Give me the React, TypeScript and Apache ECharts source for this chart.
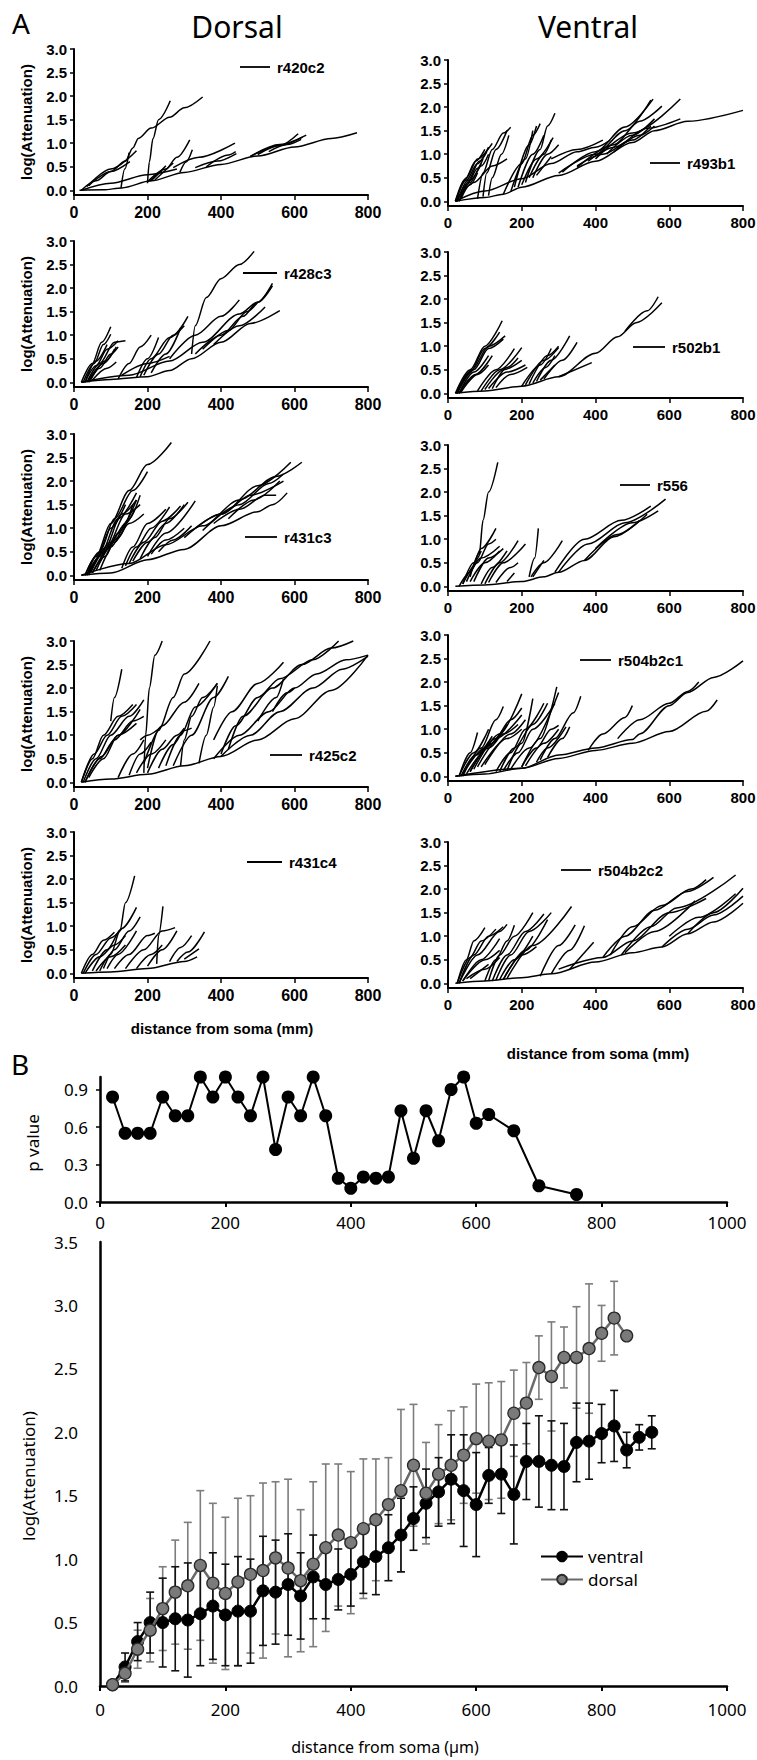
import React, { useEffect, useRef } from "react";
import * as echarts from "echarts";

// ---------- Panel A: attenuation traces (flat [x0,y0,x1,y1,...] per dendritic path) ----------
const r420c2: number[][] = [
  [15, 0, 80, 0.01, 130, 0.05, 210, 0.2, 300, 0.38, 400, 0.55, 500, 0.73, 600, 0.92, 700, 1.1, 770, 1.22],
  [20, 0, 100, 0.15, 200, 0.33, 280, 0.45],
  [20, 0, 60, 0.2, 100, 0.4, 140, 0.62, 160, 0.9, 175, 1.1, 210, 1.32, 260, 1.55, 300, 1.75, 350, 1.98],
  [35, 0.08, 100, 0.45, 170, 0.84],
  [40, 0.1, 100, 0.4, 152, 0.61],
  [128, 0.05, 138, 0.45, 150, 0.8],
  [200, 0.15, 205, 0.6, 215, 1.1, 230, 1.5, 262, 1.9],
  [200, 0.18, 250, 0.45, 280, 0.7, 315, 1.07],
  [288, 0.38, 305, 0.6, 322, 0.86],
  [210, 0.2, 250, 0.52],
  [220, 0.22, 270, 0.58],
  [205, 0.19, 240, 0.42],
  [270, 0.48, 340, 0.7, 438, 1.0],
  [330, 0.48, 390, 0.62, 442, 0.78],
  [360, 0.5, 420, 0.75, 440, 0.82],
  [480, 0.72, 560, 0.95, 610, 1.2],
  [500, 0.76, 560, 0.95, 622, 1.13],
  [480, 0.72, 560, 0.97, 632, 1.17],
  [530, 0.82, 580, 0.97, 618, 1.08],
];

const r428c3: number[][] = [
  [20, 0, 50, 0.4, 75, 0.85, 100, 1.18],
  [25, 0, 55, 0.4, 80, 0.8, 100, 1.02],
  [30, 0, 60, 0.35, 90, 0.7, 120, 0.88],
  [35, 0, 70, 0.4, 110, 0.85, 140, 0.88],
  [40, 0.05, 80, 0.4, 110, 0.7],
  [45, 0.05, 85, 0.45, 115, 0.75],
  [50, 0.05, 90, 0.3, 115, 0.43],
  [40, 0, 70, 0.3, 100, 0.6, 120, 0.75],
  [30, 0, 60, 0.45, 90, 0.8],
  [120, 0.07, 150, 0.4, 180, 0.75, 210, 1.0],
  [170, 0.1, 200, 0.5, 230, 0.95],
  [180, 0.12, 210, 0.5, 260, 0.95, 300, 1.2],
  [190, 0.15, 230, 0.6, 270, 1.0, 310, 1.4],
  [130, 0.15, 200, 0.4, 260, 0.55],
  [210, 0.2, 250, 0.6, 290, 1.15],
  [20, 0, 100, 0.06, 200, 0.12, 260, 0.25, 320, 0.5, 400, 0.85, 480, 1.25, 560, 1.52],
  [20, 0, 150, 0.15, 260, 0.45, 350, 0.85, 450, 1.45, 500, 1.7, 540, 2.1],
  [320, 0.6, 330, 1.2, 360, 1.8, 400, 2.2, 450, 2.5, 490, 2.78],
  [330, 0.6, 400, 1.0, 460, 1.4, 500, 1.7, 540, 2.05],
  [260, 0.5, 330, 1.0, 400, 1.4, 450, 1.75],
  [350, 0.7, 420, 1.1, 470, 1.5, 500, 1.7],
  [380, 0.8, 450, 1.2, 520, 1.6],
];

const r431c3: number[][] = [
  [30, 0, 60, 0.4, 100, 1.1, 150, 1.8, 200, 2.35, 265, 2.82],
  [30, 0, 70, 0.5, 110, 1.2, 160, 1.8, 200, 2.2],
  [35, 0, 70, 0.4, 120, 1.2, 170, 1.75],
  [40, 0, 80, 0.5, 130, 1.3, 170, 1.6],
  [40, 0.05, 90, 0.6, 140, 1.3, 180, 1.5],
  [45, 0.05, 100, 0.7, 140, 1.1, 165, 1.4],
  [50, 0.05, 100, 0.6, 150, 1.2, 180, 1.7],
  [60, 0.1, 110, 0.7, 150, 1.1, 190, 1.3],
  [70, 0.1, 120, 0.8, 160, 1.5],
  [50, 0.05, 85, 0.4, 120, 0.9, 170, 1.6],
  [35, 0, 65, 0.45, 100, 1.0, 140, 1.5],
  [130, 0.15, 160, 0.6, 200, 1.1, 250, 1.4],
  [140, 0.2, 170, 0.6, 210, 1.0, 260, 1.45],
  [150, 0.25, 190, 0.7, 240, 1.15, 290, 1.47],
  [160, 0.3, 200, 0.7, 250, 1.1, 300, 1.5],
  [180, 0.35, 220, 0.8, 260, 1.2, 310, 1.55],
  [200, 0.4, 250, 0.9, 330, 1.58],
  [210, 0.45, 250, 0.75, 300, 1.0],
  [230, 0.5, 270, 0.75, 320, 1.05],
  [20, 0, 100, 0.05, 200, 0.33, 300, 0.55, 400, 1.05, 500, 1.35, 540, 1.5, 580, 1.75],
  [20, 0, 150, 0.25, 250, 0.65, 350, 1.05, 450, 1.6, 550, 2.1, 620, 2.4],
  [300, 0.8, 400, 1.3, 500, 1.9, 590, 2.4],
  [350, 0.95, 450, 1.5, 530, 1.95, 570, 2.15],
  [330, 1.0, 400, 1.3, 480, 1.7, 570, 2.0],
  [380, 1.1, 450, 1.4, 520, 1.7, 550, 1.7],
  [420, 1.2, 490, 1.6, 560, 2.0],
];

const r425c2: number[][] = [
  [20, 0, 50, 0.5, 80, 1.0, 120, 1.4, 160, 1.65],
  [20, 0, 55, 0.6, 90, 1.0, 130, 1.4, 170, 1.65],
  [25, 0, 60, 0.5, 100, 1.0, 150, 1.4, 190, 1.75],
  [30, 0, 70, 0.5, 110, 0.9, 160, 1.3, 190, 1.4],
  [30, 0, 75, 0.55, 120, 1.0, 170, 1.25],
  [40, 0.1, 80, 0.5, 120, 1.0, 180, 1.55],
  [100, 1.3, 110, 1.8, 130, 2.4],
  [190, 0.2, 195, 1.0, 205, 2.0, 220, 2.7, 240, 3.0],
  [200, 0.3, 230, 1.1, 270, 1.8, 300, 2.3, 370, 3.0],
  [190, 0.4, 240, 1.2, 300, 1.7, 340, 2.1],
  [180, 0.9, 200, 1.0, 240, 1.2],
  [120, 0.1, 160, 0.6, 190, 0.9],
  [150, 0.15, 180, 0.6, 210, 0.85],
  [170, 0.2, 210, 0.6, 250, 0.9],
  [200, 0.2, 240, 0.7, 280, 1.0, 300, 1.15],
  [230, 0.3, 270, 0.8, 300, 1.1, 320, 1.15],
  [250, 0.35, 290, 1.0, 330, 1.6, 390, 2.1],
  [290, 0.35, 300, 0.9, 320, 1.4, 350, 1.8, 390, 2.1],
  [340, 0.4, 360, 1.0, 380, 1.6, 390, 2.05],
  [270, 0.35, 320, 1.0, 380, 1.8, 420, 2.25],
  [20, 0, 100, 0.07, 200, 0.17, 300, 0.35, 400, 0.55, 500, 0.9, 600, 1.35, 700, 1.95, 800, 2.7],
  [400, 0.55, 480, 1.0, 560, 1.5, 650, 2.0, 730, 2.4, 800, 2.68],
  [380, 0.5, 450, 1.0, 530, 1.5, 600, 2.0, 660, 2.3, 740, 2.6, 800, 2.7],
  [400, 0.6, 440, 1.2, 500, 1.8, 560, 2.2, 650, 2.6, 720, 3.0],
  [420, 0.7, 460, 1.4, 540, 2.0, 620, 2.5, 700, 2.85, 760, 3.0],
  [380, 0.9, 430, 1.5, 500, 2.1, 570, 2.55],
  [500, 1.3, 550, 1.8, 570, 2.2],
  [540, 1.5, 580, 1.9, 600, 2.0],
];

const r431c4: number[][] = [
  [20, 0, 50, 0.4, 80, 0.7, 110, 0.87],
  [25, 0, 60, 0.4, 100, 0.75, 130, 0.95],
  [30, 0, 70, 0.35, 110, 0.6, 140, 0.8],
  [50, 0.05, 90, 0.5, 130, 0.95, 170, 1.4],
  [70, 0.05, 100, 0.4, 125, 0.9, 140, 1.5, 165, 2.07],
  [80, 0.1, 110, 0.5, 150, 0.9, 180, 1.2],
  [90, 0.1, 120, 0.4, 170, 0.9],
  [60, 0.05, 100, 0.35, 140, 0.6],
  [110, 0.1, 150, 0.4, 200, 0.8, 220, 0.85],
  [140, 0.1, 190, 0.5, 240, 0.9, 275, 0.97],
  [170, 0.1, 210, 0.4, 240, 0.6],
  [200, 0.15, 240, 0.5, 280, 0.9],
  [225, 0.2, 230, 0.8, 242, 1.42],
  [260, 0.25, 290, 0.55, 320, 0.8],
  [280, 0.25, 310, 0.45, 355, 0.88],
  [300, 0.3, 340, 0.52],
  [20, 0, 100, 0.03, 200, 0.1, 300, 0.25, 335, 0.35],
];

const r493b1: number[][] = [
  [20, 0, 50, 0.45, 80, 0.8, 110, 1.15],
  [20, 0, 45, 0.45, 75, 0.85, 100, 1.1],
  [22, 0, 50, 0.5, 80, 0.9, 120, 1.23],
  [25, 0, 55, 0.45, 85, 0.85, 105, 1.05],
  [25, 0, 55, 0.4, 80, 0.7, 95, 0.9],
  [30, 0, 60, 0.4, 90, 0.75, 110, 1.0],
  [30, 0, 60, 0.45, 90, 0.8],
  [35, 0.05, 60, 0.35, 80, 0.6],
  [20, 0, 70, 0.4, 120, 0.75, 160, 0.9],
  [80, 0.05, 95, 0.6, 120, 1.1, 150, 1.45, 170, 1.57],
  [95, 0.1, 105, 0.6, 130, 1.1, 160, 1.5],
  [110, 0.12, 120, 0.5, 145, 1.0, 165, 1.4],
  [150, 0.15, 200, 0.8, 230, 1.4, 250, 1.65],
  [170, 0.2, 210, 0.9, 230, 1.5],
  [180, 0.3, 220, 1.2, 240, 1.6],
  [190, 0.3, 230, 1.0, 260, 1.4],
  [200, 0.35, 240, 0.9, 285, 1.35],
  [210, 0.4, 250, 1.1, 270, 1.6, 290, 1.87],
  [220, 0.5, 260, 1.0, 280, 1.3],
  [230, 0.5, 270, 1.0, 300, 1.2],
  [240, 0.55, 280, 0.95],
  [20, 0, 100, 0.08, 150, 0.15, 200, 0.3, 300, 0.55, 400, 0.85, 500, 1.25, 560, 1.5, 650, 1.7, 800, 1.93],
  [20, 0, 100, 0.22, 200, 0.48, 280, 0.8, 350, 1.05, 400, 1.15, 440, 1.3],
  [300, 0.6, 400, 1.0, 480, 1.5, 550, 2.15],
  [310, 0.62, 400, 1.05, 480, 1.58, 556, 2.17],
  [350, 0.72, 450, 1.2, 520, 1.7, 580, 2.02],
  [400, 0.9, 500, 1.45, 630, 2.17],
  [430, 1.0, 500, 1.4, 560, 1.75],
  [450, 1.05, 520, 1.4, 560, 1.6],
  [380, 0.85, 450, 1.15, 540, 1.55, 630, 1.75],
  [350, 0.75, 420, 1.0, 500, 1.3, 550, 1.6],
  [280, 0.9, 350, 1.1, 420, 1.3],
];

const r502b1: number[][] = [
  [20, 0, 60, 0.5, 100, 1.0, 147, 1.54],
  [22, 0, 60, 0.45, 100, 0.95, 140, 1.3],
  [25, 0, 65, 0.5, 110, 1.0, 155, 1.22],
  [25, 0, 70, 0.5, 110, 0.95, 150, 1.15],
  [30, 0, 70, 0.45, 110, 0.8],
  [30, 0, 75, 0.4, 120, 0.8],
  [35, 0.02, 80, 0.4, 110, 0.6],
  [80, 0.05, 130, 0.5, 180, 0.95],
  [90, 0.05, 140, 0.5, 200, 0.97],
  [100, 0.08, 150, 0.5, 200, 0.7],
  [110, 0.1, 160, 0.45, 210, 0.6],
  [130, 0.12, 170, 0.4, 215, 0.55],
  [120, 0.1, 160, 0.55, 190, 0.75],
  [200, 0.15, 250, 0.6, 280, 0.95],
  [210, 0.18, 260, 0.7, 300, 0.97],
  [220, 0.2, 270, 0.8, 300, 1.0],
  [240, 0.25, 280, 0.7, 330, 1.22],
  [260, 0.3, 310, 0.7, 350, 1.08],
  [250, 0.28, 290, 0.6],
  [230, 0.22, 265, 0.55, 290, 0.8],
  [20, 0, 100, 0.05, 200, 0.15, 300, 0.35, 400, 0.85, 460, 1.2, 510, 1.5, 580, 1.92],
  [480, 1.32, 540, 1.75, 570, 2.05],
  [300, 0.35, 390, 0.65],
];

const r556: number[][] = [
  [60, 0.2, 85, 0.7, 95, 1.4, 110, 2.0, 135, 2.63],
  [30, 0, 60, 0.3, 90, 0.8, 130, 1.23],
  [40, 0.05, 80, 0.5, 110, 0.9, 130, 1.0],
  [50, 0.1, 90, 0.6, 140, 0.85],
  [60, 0.1, 100, 0.5, 140, 0.75],
  [70, 0.1, 110, 0.6, 150, 0.8],
  [90, 0.05, 120, 0.4, 160, 0.75],
  [100, 0.05, 140, 0.5, 190, 0.97],
  [110, 0.08, 150, 0.5, 210, 0.9],
  [130, 0.08, 170, 0.4, 190, 0.5],
  [160, 0.1, 180, 0.28],
  [40, 0.05, 70, 0.5, 90, 0.75],
  [220, 0.2, 235, 0.6, 245, 1.23],
  [225, 0.2, 260, 0.5, 310, 0.97],
  [230, 0.2, 260, 0.55],
  [20, 0, 100, 0.03, 200, 0.1, 260, 0.2, 300, 0.3, 370, 0.55, 450, 1.05, 540, 1.53],
  [290, 0.3, 370, 1.0, 470, 1.4, 550, 1.7],
  [300, 0.3, 380, 0.9, 480, 1.35, 590, 1.85],
  [400, 0.8, 500, 1.35, 570, 1.6],
  [370, 0.55, 460, 1.1, 520, 1.4],
];

const r504b2c1: number[][] = [
  [30, 0, 60, 0.5, 80, 0.93],
  [30, 0, 70, 0.5, 110, 1.0],
  [40, 0, 90, 0.6, 130, 1.2, 150, 1.48],
  [40, 0.05, 100, 0.6, 150, 1.0],
  [50, 0.05, 110, 0.6, 160, 1.1],
  [60, 0.1, 120, 0.7, 170, 1.2, 200, 1.45],
  [60, 0.1, 130, 0.8, 200, 1.3],
  [70, 0.15, 140, 0.9, 200, 1.75],
  [80, 0.2, 150, 0.9, 190, 1.1],
  [90, 0.2, 160, 0.8, 200, 1.0],
  [100, 0.25, 170, 0.9, 210, 1.2],
  [35, 0, 75, 0.45, 120, 0.85],
  [130, 0.1, 170, 0.5, 210, 1.0, 260, 1.55],
  [140, 0.1, 180, 0.6, 230, 1.1, 270, 1.55],
  [150, 0.12, 190, 0.5, 230, 1.0, 290, 1.55],
  [160, 0.12, 200, 0.7, 230, 1.65],
  [170, 0.15, 220, 0.6, 300, 1.78],
  [200, 0.2, 250, 0.8, 295, 1.9],
  [200, 0.2, 240, 0.6, 280, 1.0, 300, 1.08],
  [210, 0.22, 260, 0.7, 300, 1.0],
  [240, 0.3, 270, 0.6, 320, 1.05],
  [250, 0.35, 290, 0.8, 340, 1.35, 360, 1.7],
  [270, 0.4, 310, 0.8, 330, 1.05],
  [20, 0, 100, 0.05, 200, 0.17, 300, 0.38, 400, 0.55, 500, 0.7, 600, 0.95, 700, 1.38, 730, 1.62],
  [20, 0, 200, 0.17, 300, 0.45, 400, 0.6, 500, 0.78, 520, 0.9, 600, 1.5, 650, 1.78, 720, 2.1, 800, 2.45],
  [380, 0.55, 420, 0.9, 480, 1.25, 500, 1.5],
  [460, 0.8, 520, 1.2, 600, 1.55, 650, 1.8, 680, 2.0],
];

const r504b2c2: number[][] = [
  [25, 0, 50, 0.5, 70, 0.9, 100, 1.18],
  [25, 0, 60, 0.55, 90, 0.9, 130, 1.15],
  [30, 0, 70, 0.6, 110, 1.0, 150, 1.2],
  [30, 0, 80, 0.6, 140, 1.1, 160, 1.25],
  [40, 0.05, 90, 0.5, 140, 0.95],
  [40, 0.05, 100, 0.5, 140, 0.7],
  [50, 0.1, 100, 0.3, 140, 0.55],
  [60, 0.1, 110, 0.4],
  [100, 0.05, 130, 0.5, 160, 0.9, 180, 1.23],
  [110, 0.05, 140, 0.6, 180, 1.0, 230, 1.5],
  [120, 0.05, 160, 0.6, 210, 1.1, 260, 1.47],
  [130, 0.07, 170, 0.6, 220, 1.1, 280, 1.5],
  [140, 0.08, 180, 0.5, 230, 1.0],
  [150, 0.08, 200, 0.6, 240, 0.78],
  [150, 0.08, 210, 0.7, 270, 1.35],
  [160, 0.1, 230, 0.8, 335, 1.63],
  [250, 0.15, 300, 0.8, 345, 1.24],
  [280, 0.2, 330, 0.7, 370, 1.22],
  [330, 0.3, 395, 0.87],
  [20, 0, 100, 0.05, 200, 0.12, 280, 0.2, 400, 0.45, 500, 0.65, 580, 0.77, 650, 1.05, 720, 1.3, 800, 1.7],
  [580, 0.77, 650, 1.15, 720, 1.45, 800, 1.85],
  [650, 1.05, 720, 1.5, 800, 2.02],
  [300, 0.3, 420, 0.55, 500, 0.9, 600, 1.5, 700, 1.8],
  [420, 0.55, 480, 1.0, 560, 1.55, 650, 1.95, 720, 2.25],
  [440, 0.6, 500, 1.2, 580, 1.65, 660, 2.0, 700, 2.2],
  [470, 0.6, 550, 1.2, 620, 1.6, 780, 2.3],
  [480, 0.65, 560, 1.1, 670, 1.75],
  [600, 1.0, 680, 1.4, 780, 1.9],
];

const panelNames = ["r420c2", "r428c3", "r431c3", "r425c2", "r431c4", "r493b1", "r502b1", "r556", "r504b2c1", "r504b2c2"];
const panelTraces = [r420c2, r428c3, r431c3, r425c2, r431c4, r493b1, r502b1, r556, r504b2c1, r504b2c2];
const panelYTicks = [0, 0.5, 1, 1.5, 2, 2.5, 3];

// ---------- Panel B ----------
const pDistance = [20, 40, 60, 80, 100, 120, 140, 160, 180, 200, 220, 240, 260, 280, 300, 320, 340, 360, 380, 400, 420, 440, 460, 480, 500, 520, 540, 560, 580, 600, 620, 660, 700, 760];
const pValues = [0.84, 0.55, 0.55, 0.55, 0.84, 0.69, 0.69, 1.0, 0.84, 1.0, 0.84, 0.69, 1.0, 0.42, 0.84, 0.69, 1.0, 0.69, 0.19, 0.11, 0.2, 0.19, 0.2, 0.73, 0.35, 0.73, 0.49, 0.9, 1.0, 0.63, 0.7, 0.57, 0.13, 0.06];
const pTicks = [0, 0.3, 0.6, 0.9];

const ventralDistance = [20, 40, 60, 80, 100, 120, 140, 160, 180, 200, 220, 240, 260, 280, 300, 320, 340, 360, 380, 400, 420, 440, 460, 480, 500, 520, 540, 560, 580, 600, 620, 640, 660, 680, 700, 720, 740, 760, 780, 800, 820, 840, 860, 880];
const ventralMean = [0.01, 0.15, 0.35, 0.5, 0.5, 0.53, 0.52, 0.57, 0.63, 0.56, 0.59, 0.59, 0.75, 0.74, 0.8, 0.71, 0.86, 0.8, 0.84, 0.88, 0.98, 1.02, 1.09, 1.19, 1.32, 1.44, 1.53, 1.63, 1.54, 1.43, 1.66, 1.67, 1.51, 1.77, 1.77, 1.74, 1.73, 1.92, 1.93, 1.99, 2.05, 1.86, 1.96, 2.0];
const ventralSD = [0.02, 0.11, 0.15, 0.24, 0.35, 0.41, 0.45, 0.41, 0.42, 0.4, 0.43, 0.41, 0.43, 0.41, 0.4, 0.34, 0.33, 0.27, 0.24, 0.25, 0.25, 0.3, 0.26, 0.29, 0.25, 0.27, 0.27, 0.35, 0.44, 0.41, 0.22, 0.31, 0.39, 0.3, 0.36, 0.35, 0.34, 0.31, 0.3, 0.23, 0.28, 0.14, 0.1, 0.13];

const dorsalDistance = [20, 40, 60, 80, 100, 120, 140, 160, 180, 200, 220, 240, 260, 280, 300, 320, 340, 360, 380, 400, 420, 440, 460, 480, 500, 520, 540, 560, 580, 600, 620, 640, 660, 680, 700, 720, 740, 760, 780, 800, 820, 840];
const dorsalMean = [0.01, 0.1, 0.29, 0.44, 0.61, 0.74, 0.79, 0.95, 0.81, 0.73, 0.82, 0.88, 0.91, 1.01, 0.93, 0.83, 0.96, 1.09, 1.19, 1.13, 1.24, 1.31, 1.43, 1.54, 1.74, 1.52, 1.67, 1.74, 1.82, 1.95, 1.93, 1.94, 2.15, 2.23, 2.51, 2.44, 2.59, 2.59, 2.66, 2.78, 2.9, 2.76];
const dorsalSD = [0.02, 0.07, 0.15, 0.25, 0.33, 0.41, 0.5, 0.59, 0.63, 0.6, 0.66, 0.62, 0.69, 0.6, 0.7, 0.56, 0.65, 0.66, 0.56, 0.56, 0.55, 0.48, 0.37, 0.64, 0.48, 0.4, 0.39, 0.43, 0.38, 0.43, 0.46, 0.46, 0.34, 0.32, 0.25, 0.43, 0.24, 0.4, 0.51, 0.22, 0.29, 0];

// ---------- layout ----------
const W = 757;
const H = 1760;
const colLeft = [74, 448];
const colWidth = [294, 295];
const rowTops = [
  [49, 241, 434, 641, 832],
  [60, 252, 445, 635, 842],
];
const panelH = 146;
const legendLines = [
  [240, 270, 67],
  [243, 277, 273],
  [245, 277, 537],
  [270, 302, 755],
  [247, 282, 862],
  [650, 680, 163],
  [633, 665, 347],
  [620, 650, 485],
  [580, 611, 660],
  [561, 591, 870],
];

const AFONT = "Liberation Sans";
const BFONT = "Noto Sans";

function pairs(flat: number[]) {
  const out: number[][] = [];
  for (let i = 0; i < flat.length; i += 2) out.push([flat[i], flat[i + 1]]);
  return out;
}

function buildOption() {
  const grid: any[] = [];
  const xAxis: any[] = [];
  const yAxis: any[] = [];
  const series: any[] = [];
  const graphic: any[] = [];

  panelNames.forEach((name, i) => {
    const col = i < 5 ? 0 : 1;
    const row = i % 5;
    grid.push({ left: colLeft[col], top: rowTops[col][row], width: colWidth[col], height: panelH, outerBoundsMode: "none" });
    xAxis.push({
      gridIndex: i, type: "value", min: 0, max: 800, interval: 200,
      axisLine: { show: true, onZero: false, lineStyle: { color: "#000", width: 2 } },
      axisTick: { show: true, length: 5, lineStyle: { color: "#000", width: 1.5 } },
      axisLabel: { color: "#000", fontFamily: AFONT, fontWeight: "bold", fontSize: col === 0 ? 16 : 15, margin: 9, formatter: (v: number) => String(v) },
      splitLine: { show: false },
    });
    yAxis.push({
      gridIndex: i, type: "value", min: -0.1, max: 3,
      axisLine: { show: true, onZero: false, lineStyle: { color: "#000", width: 2 } },
      axisTick: { show: true, length: 4, customValues: panelYTicks, lineStyle: { color: "#000", width: 1.5 } },
      axisLabel: { customValues: panelYTicks, color: "#000", fontFamily: AFONT, fontWeight: "bold", fontSize: 15, margin: 7, formatter: (v: number) => v.toFixed(1) },
      splitLine: { show: false },
    });
    panelTraces[i].forEach((t) => {
      series.push({
        type: "line", xAxisIndex: i, yAxisIndex: i, data: pairs(t),
        symbol: "none", showSymbol: false, smooth: 0.3, smoothMonotone: "x",
        lineStyle: { color: "#000", width: 1.5 }, silent: true, clip: false,
      });
    });
    const lg = legendLines[i];
    graphic.push({ type: "line", shape: { x1: lg[0], y1: lg[2], x2: lg[1], y2: lg[2] }, style: { stroke: "#000", lineWidth: 1.8 } });
    graphic.push({ type: "text", x: lg[1] + 7, y: lg[2], style: { text: name, font: `bold 15px "${AFONT}"`, fill: "#000", textAlign: "left", textVerticalAlign: "middle" } });
    if (col === 0) {
      graphic.push({ type: "text", x: 26, y: rowTops[0][row] + panelH / 2, rotation: Math.PI / 2, style: { text: "log(Attenuation)", font: `bold 15px "${AFONT}"`, fill: "#000", textAlign: "center", textVerticalAlign: "middle" } });
    }
  });

  // p-value grid (index 10)
  grid.push({ left: 100, top: 1077, width: 627, height: 125, outerBoundsMode: "none" });
  xAxis.push({
    gridIndex: 10, type: "value", min: 0, max: 1000, interval: 200,
    axisLine: { show: true, onZero: false, lineStyle: { color: "#000", width: 2.5 } },
    axisTick: { show: true, length: 5, lineStyle: { color: "#000", width: 2 } },
    axisLabel: { color: "#000", fontFamily: BFONT, fontSize: 17, margin: 12, formatter: (v: number) => String(v) },
    splitLine: { show: false },
  });
  yAxis.push({
    gridIndex: 10, type: "value", min: 0, max: 1,
    axisLine: { show: true, onZero: false, lineStyle: { color: "#000", width: 2.5 } },
    axisTick: { show: true, length: 4, customValues: pTicks, lineStyle: { color: "#000", width: 1.5 } },
    axisLabel: { customValues: pTicks, color: "#000", fontFamily: BFONT, fontSize: 17, margin: 12, formatter: (v: number) => v.toFixed(1) },
    splitLine: { show: false },
  });
  series.push({
    type: "line", name: "p value", xAxisIndex: 10, yAxisIndex: 10,
    data: pDistance.map((d, i) => [d, pValues[i]]),
    symbol: "circle", symbolSize: 13, showSymbol: true, clip: false,
    itemStyle: { color: "#000" }, lineStyle: { color: "#000", width: 2 },
  });

  // main grid (index 11)
  grid.push({ left: 100, top: 1242, width: 627, height: 444, outerBoundsMode: "none" });
  xAxis.push({
    gridIndex: 11, type: "value", min: 0, max: 1000, interval: 200,
    axisLine: { show: true, onZero: false, lineStyle: { color: "#000", width: 2.5 } },
    axisTick: { show: true, length: 5, lineStyle: { color: "#000", width: 2 } },
    axisLabel: { color: "#000", fontFamily: BFONT, fontSize: 17, margin: 15, formatter: (v: number) => String(v) },
    splitLine: { show: false },
  });
  yAxis.push({
    gridIndex: 11, type: "value", min: 0, max: 3.5, interval: 0.5,
    axisLine: { show: true, onZero: false, lineStyle: { color: "#000", width: 2.5 } },
    axisTick: { show: false },
    axisLabel: { color: "#000", fontFamily: BFONT, fontSize: 17, margin: 22, formatter: (v: number) => v.toFixed(1) },
    splitLine: { show: false },
  });

  const errRender = (color: string) => (params: any, api: any) => {
    const x = api.value(0);
    const lo = api.coord([x, api.value(1)]);
    const hi = api.coord([x, api.value(2)]);
    const w = 4;
    const st = { stroke: color, lineWidth: 1.6 };
    return {
      type: "group",
      children: [
        { type: "line", shape: { x1: lo[0], y1: lo[1], x2: hi[0], y2: hi[1] }, style: st },
        { type: "line", shape: { x1: lo[0] - w, y1: lo[1], x2: lo[0] + w, y2: lo[1] }, style: st },
        { type: "line", shape: { x1: hi[0] - w, y1: hi[1], x2: hi[0] + w, y2: hi[1] }, style: st },
      ],
    };
  };

  series.push({
    type: "custom", name: "dorsal SD", xAxisIndex: 11, yAxisIndex: 11,
    data: dorsalDistance.map((d, i) => [d, dorsalMean[i] - dorsalSD[i], dorsalMean[i] + dorsalSD[i]]),
    encode: { x: 0, y: [1, 2] }, renderItem: errRender("#7d7d7d"), silent: true, clip: false, z: 1,
  });
  series.push({
    type: "custom", name: "ventral SD", xAxisIndex: 11, yAxisIndex: 11,
    data: ventralDistance.map((d, i) => [d, ventralMean[i] - ventralSD[i], ventralMean[i] + ventralSD[i]]),
    encode: { x: 0, y: [1, 2] }, renderItem: errRender("#111"), silent: true, clip: false, z: 1,
  });
  series.push({
    type: "line", name: "ventral", xAxisIndex: 11, yAxisIndex: 11,
    data: ventralDistance.map((d, i) => [d, ventralMean[i]]),
    symbol: "circle", symbolSize: 12, showSymbol: true, z: 3,
    itemStyle: { color: "#000", borderColor: "#000", borderWidth: 1 },
    lineStyle: { color: "#000", width: 2.5 },
  });
  series.push({
    type: "line", name: "dorsal", xAxisIndex: 11, yAxisIndex: 11,
    data: dorsalDistance.map((d, i) => [d, dorsalMean[i]]),
    symbol: "circle", symbolSize: 12, showSymbol: true, z: 4,
    itemStyle: { color: "#7a7a7a", borderColor: "#2a2a2a", borderWidth: 1.3 },
    lineStyle: { color: "#6a6a6a", width: 2.5 },
  });

  // texts
  graphic.push({ type: "text", x: 21, y: 23, style: { text: "A", font: `28px "${BFONT}"`, fill: "#000", textAlign: "center", textVerticalAlign: "middle" } });
  graphic.push({ type: "text", x: 237, y: 26, style: { text: "Dorsal", font: `30px "${BFONT}"`, fill: "#000", textAlign: "center", textVerticalAlign: "middle" } });
  graphic.push({ type: "text", x: 588, y: 26, style: { text: "Ventral", font: `30px "${BFONT}"`, fill: "#000", textAlign: "center", textVerticalAlign: "middle" } });
  graphic.push({ type: "text", x: 222, y: 1028, style: { text: "distance from soma (mm)", font: `bold 15px "${AFONT}"`, fill: "#000", textAlign: "center", textVerticalAlign: "middle" } });
  graphic.push({ type: "text", x: 598, y: 1053, style: { text: "distance from soma (mm)", font: `bold 15px "${AFONT}"`, fill: "#000", textAlign: "center", textVerticalAlign: "middle" } });
  graphic.push({ type: "text", x: 20, y: 1064, style: { text: "B", font: `28px "${BFONT}"`, fill: "#000", textAlign: "center", textVerticalAlign: "middle" } });
  graphic.push({ type: "text", x: 32, y: 1143, rotation: Math.PI / 2, style: { text: "p value", font: `17px "${BFONT}"`, fill: "#000", textAlign: "center", textVerticalAlign: "middle" } });
  graphic.push({ type: "text", x: 28, y: 1476, rotation: Math.PI / 2, style: { text: "log(Attenuation)", font: `17px "${BFONT}"`, fill: "#000", textAlign: "center", textVerticalAlign: "middle" } });
  graphic.push({ type: "text", x: 385, y: 1747, style: { text: "distance from soma (µm)", font: `16px "${BFONT}"`, fill: "#000", textAlign: "center", textVerticalAlign: "middle" } });

  return {
    animation: false,
    backgroundColor: "#fff",
    grid, xAxis, yAxis, series, graphic,
    legend: {
      data: ["ventral", "dorsal"], orient: "vertical", left: 535, top: 1543,
      itemWidth: 42, itemHeight: 12, itemGap: 6,
      textStyle: { fontFamily: BFONT, fontSize: 17, color: "#000" },
    },
  };
}

export default function App() {
  const ref = useRef<HTMLDivElement>(null);
  useEffect(() => {
    document.body.style.margin = "0";
    if (!ref.current) return;
    const chart = echarts.init(ref.current, null, { renderer: "svg" });
    chart.setOption(buildOption() as any);
    return () => chart.dispose();
  }, []);
  return <div ref={ref} style={{ width: W, height: H }} />;
}
